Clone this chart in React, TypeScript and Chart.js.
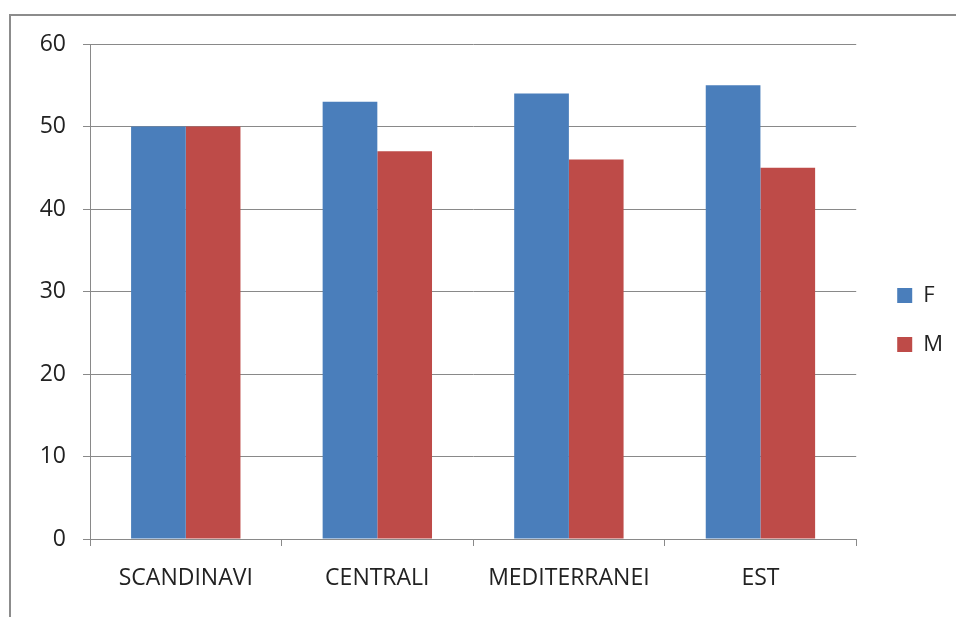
import React, { useEffect, useRef } from "react";
import { Chart, registerables } from "chart.js";

Chart.register(...registerables);

const categories = ["SCANDINAVI", "CENTRALI", "MEDITERRANEI", "EST"];
const seriesF = [50, 53, 54, 55];
const seriesM = [50, 47, 46, 45];
const seriesNames = ["F", "M"];

const AXIS = "#898989";
const FONT = "'Open Sans', 'DejaVu Sans', sans-serif";

export default function App() {
  const ref = useRef<HTMLCanvasElement | null>(null);

  useEffect(() => {
    if (!ref.current) return;
    const chart = new Chart(ref.current, {
      type: "bar",
      data: {
        labels: categories,
        datasets: [
          { label: seriesNames[0], data: seriesF, backgroundColor: "#4A7EBB", borderWidth: 0 },
          { label: seriesNames[1], data: seriesM, backgroundColor: "#BE4B48", borderWidth: 0 },
        ],
      },
      options: {
        responsive: false,
        animation: false,
        layout: { padding: { top: 28, left: 0, right: 0, bottom: 0 } },
        datasets: {
          bar: { categoryPercentage: 0.571, barPercentage: 1 },
        },
        plugins: {
          tooltip: { enabled: false },
          legend: {
            position: "right",
            labels: {
              boxWidth: 15,
              boxHeight: 15,
              padding: 27,
              color: "#222",
              font: { family: FONT, size: 22 },
            },
          },
        },
        scales: {
          x: {
            grid: {
              display: true,
              drawOnChartArea: false,
              drawTicks: true,
              tickLength: 7,
              color: AXIS,
              lineWidth: 1,
            },
            border: { display: true, color: AXIS, width: 1 },
            ticks: {
              color: "#222",
              padding: 19,
              font: { family: FONT, size: 23 },
              maxRotation: 0,
            },
            afterFit: (s: any) => {
              s.height = 57;
            },
          },
          y: {
            min: 0,
            max: 60,
            ticks: {
              stepSize: 10,
              color: "#222",
              padding: 17,
              font: { family: FONT, size: 23, lineHeight: 0.9 },
            },
            grid: { color: AXIS, lineWidth: 1, tickLength: 7, drawTicks: true },
            border: { display: true, color: AXIS, width: 1 },
            afterFit: (s: any) => {
              s.width = 79;
            },
          },
          y2: {
            position: "right",
            display: true,
            grid: { display: false },
            ticks: { display: false },
            border: { display: false },
            afterFit: (s: any) => {
              s.width = 14;
            },
          },
        },
      },
    });
    return () => chart.destroy();
  }, []);

  return (
    <div style={{ position: "fixed", left: 0, top: 0, width: 956, height: 617, overflow: "hidden", background: "#fff" }}>
      <div
        style={{
          position: "absolute",
          left: 9,
          top: 14,
          width: 1000,
          height: 700,
          border: "2px solid #8c8c8c",
          boxSizing: "border-box",
        }}
      />
      <canvas
        ref={ref}
        width={942}
        height={580}
        style={{ position: "absolute", left: 11, top: 16, width: 942, height: 580 }}
      />
    </div>
  );
}
